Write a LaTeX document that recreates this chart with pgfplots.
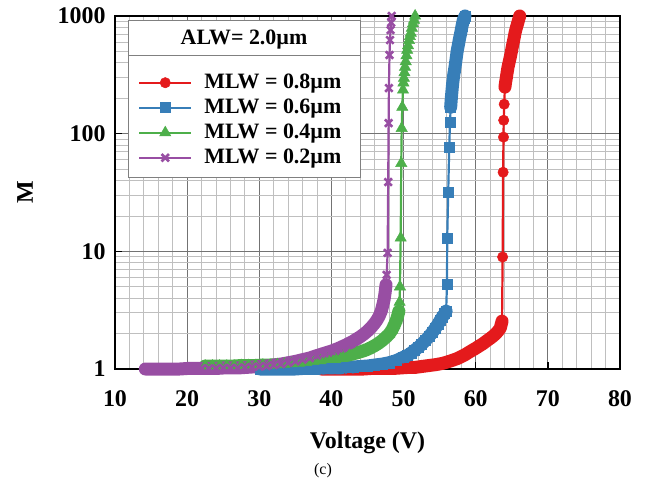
\documentclass[border=0pt]{standalone}
\usepackage{pgfplots}
\usepackage{pgfplotstable}
\pgfplotsset{compat=1.18}
\usepackage{fontspec}
\setmainfont{Liberation Serif}
\definecolor{cred}{RGB}{228,26,28}
\definecolor{cblue}{RGB}{55,126,184}
\definecolor{cgreen}{RGB}{77,175,74}
\definecolor{cpurple}{RGB}{152,78,163}

\pgfplotstableread{
V M
38.6 1.00
39.5 1.00
40.5 1.00
41.5 1.00
42.5 1.00
43.5 1.00
44.5 1.00
45.5 1.01
46.5 1.01
47.5 1.01
48.5 1.01
49.5 1.02
50.5 1.03
51.5 1.03
52.5 1.05
53.5 1.07
54.5 1.09
55.5 1.12
56.5 1.17
57.5 1.23
58.5 1.32
59 1.38
59.5 1.44
60 1.50
60.5 1.57
61 1.64
61.5 1.73
62 1.82
62.4 1.90
62.8 2.00
63.1 2.10
63.4 2.22
63.65 2.55
63.73 8.95
63.8 47
63.85 93.5
63.88 130
63.95 178
64.05 249
64.15 275
64.25 300
64.35 330
64.48 368
64.65 410
64.8 450
64.95 500
65.1 560
65.28 630
65.45 716
65.62 790
65.8 860
65.95 930
66.1 1000
}\tblred

\pgfplotstableread{
V M
30.1 1.00
31 1.00
32 1.00
33 1.00
34 1.00
35 1.00
36 1.01
37 1.01
38 1.01
39 1.02
40 1.02
41 1.02
42 1.03
43 1.04
44 1.05
45 1.06
46 1.08
47 1.10
48 1.13
49 1.18
50 1.26
50.5 1.30
51 1.36
51.5 1.44
52 1.52
52.5 1.62
53 1.74
53.5 1.88
54 2.05
54.4 2.22
54.8 2.42
55.1 2.60
55.4 2.78
55.7 2.95
55.9 3.10
56.02 5.3
56.05 13
56.19 32
56.33 77
56.44 125
56.53 168
56.62 200
56.72 235
56.81 269
56.95 315
57.13 368
57.3 440
57.45 513
57.6 570
57.75 640
57.92 716
58.1 820
58.28 923
58.4 960
58.52 1000
}\tblblue

\pgfplotstableread{
V M
22.5 1.06
23.5 1.06
24.5 1.06
25.5 1.06
26.5 1.06
27.5 1.07
28.5 1.07
29.5 1.07
30.5 1.08
31.5 1.08
32.5 1.09
33.5 1.10
34.5 1.11
35.5 1.12
36.5 1.14
37.5 1.16
38.5 1.18
39.5 1.21
40.5 1.24
41.5 1.28
42.5 1.32
43.5 1.37
44.5 1.43
45 1.47
45.5 1.52
46 1.58
46.5 1.65
47 1.74
47.5 1.85
48 1.98
48.4 2.15
48.7 2.35
49 2.60
49.2 2.85
49.35 3.10
49.45 3.70
49.5 5.0
49.6 13
49.68 56
49.74 111
49.82 168
49.92 235
49.98 270
50.05 296
50.12 330
50.2 368
50.3 410
50.4 460
50.5 513
50.62 560
50.75 620
50.88 670
51.0 716
51.15 790
51.3 860
51.45 923
51.6 1000
}\tblgreen

\pgfplotstableread{
V M
14.2 1.00
15 1.00
16 1.00
17 1.00
18 1.00
19 1.00
20 1.01
21 1.01
22 1.01
23 1.01
24 1.01
25 1.02
26 1.02
27 1.02
28 1.03
29 1.04
30 1.05
31 1.06
32 1.08
33 1.10
34 1.13
35 1.16
36 1.20
37 1.24
38 1.30
39 1.36
40 1.42
40.5 1.46
41 1.50
41.5 1.55
42 1.60
42.5 1.66
43 1.72
43.5 1.80
44 1.88
44.5 1.98
45 2.10
45.5 2.25
46 2.45
46.3 2.60
46.6 2.80
46.9 3.10
47.1 3.45
47.3 3.90
47.45 4.50
47.57 5.20
47.65 6.30
47.79 9.70
47.87 38.8
47.93 123
47.97 244
48.05 466
48.12 624
48.2 760
48.28 880
48.35 1000
}\tblpurple

\begin{document}
\begin{tikzpicture}
\useasboundingbox (-115bp,-115bp) rectangle (531bp,369bp);
\begin{axis}[
  at={(0,0)}, anchor=south west,
  scale only axis, width=505bp, height=353bp,
  xmin=10, xmax=80, ymin=1, ymax=1000, ymode=log,
  clip=false,
  xtick={10,20,30,40,50,60,70,80}, xticklabels={10,20,30,40,50,60,70,80},
  ytick={1,10,100,1000}, yticklabels={1,10,100,1000},
  minor x tick num=4,
  minor ytick={2,3,4,5,6,7,8,9,20,30,40,50,60,70,80,90,200,300,400,500,600,700,800,900},
  grid=both,
  major grid style={black!55, line width=0.8bp},
  minor grid style={black!25, line width=0.8bp},
  axis line style={black, line width=1.5bp},
  tick pos=left, tick align=inside, major tick length=7bp, minor tick length=0pt,
  tick style={black, line width=1.5bp},
  ticklabel style={font=\bfseries\fontsize{24}{24}\selectfont},
  xticklabel style={yshift=-18bp},
  yticklabel style={xshift=-6bp},
  xlabel={Voltage (V)}, ylabel={M},
  label style={font=\bfseries\fontsize{24}{24}\selectfont},
  xlabel style={at={(axis description cs:0.5,-0.2238)}, anchor=base},
  ylabel style={at={(axis description cs:-0.178,0.5)}, anchor=center},
  legend style={at={(rel axis cs:0.0455,0.8413)}, anchor=north west, draw=none, fill=none,
    font=\bfseries\fontsize{22}{22}\selectfont, row sep=4bp, inner sep=0pt,
    nodes={inner sep=0pt, text height=16bp, text depth=5bp},
    /tikz/every odd column/.append style={column sep=12bp}},
  legend cell align=left,
  legend image code/.code={\draw[mark repeat=2,mark phase=2] plot coordinates {(0bp,0bp) (26bp,0bp) (52bp,0bp)};},
  band/.style={line width=13bp, line cap=round, line join=round, no markers, forget plot},
]
% red
\addplot[band, cred, restrict x to domain=38:63.66] table[x=V,y=M] {\tblred};
\addplot[band, cred, restrict x to domain=64.04:67] table[x=V,y=M] {\tblred};
\addplot[cred, line width=2.2bp, mark=*, mark size=5.2bp, mark options={solid, fill=cred, draw=cred, line width=0.5bp}] table[x=V,y=M] {\tblred};
\addlegendentry{MLW = 0.8µm}
% blue
\addplot[band, cblue, restrict x to domain=29:55.95] table[x=V,y=M] {\tblblue};
\addplot[band, cblue, restrict x to domain=56.5:59] table[x=V,y=M] {\tblblue};
\addplot[cblue, line width=2.2bp, mark=square*, mark size=5bp, mark options={solid, fill=cblue, draw=cblue, line width=0.5bp}] table[x=V,y=M] {\tblblue};
\addlegendentry{MLW = 0.6µm}
% green
\addplot[band, cgreen, restrict x to domain=22:49.4] table[x=V,y=M] {\tblgreen};
\addplot[cgreen, line width=2.2bp, mark=triangle*, mark size=6.5bp, mark options={solid, fill=cgreen, draw=cgreen, line width=0.5bp}] table[x=V,y=M] {\tblgreen};
\addlegendentry{MLW = 0.4µm}
% purple
\addplot[band, cpurple, restrict x to domain=14:47.6] table[x=V,y=M] {\tblpurple};
\addplot[cpurple, line width=2.2bp, mark=x, mark size=5.2bp, mark options={solid, draw=cpurple, line width=2.6bp}] table[x=V,y=M] {\tblpurple};
\addlegendentry{MLW = 0.2µm}
% legend frame with title
\draw[black!50, line width=0.8bp, fill=white] (rel axis cs:0.02574,0.54391) rectangle (rel axis cs:0.48515,0.98867);
\draw[black!50, line width=0.8bp] (rel axis cs:0.02574,0.88952) -- (rel axis cs:0.48515,0.88952);
\node[font=\bfseries\fontsize{22}{22}\selectfont] at (rel axis cs:0.25545,0.93201) {ALW= 2.0µm};
\end{axis}
\node[font=\fontsize{16}{16}\selectfont] at (208bp,-102bp) {(c)};
\end{tikzpicture}
\end{document}
